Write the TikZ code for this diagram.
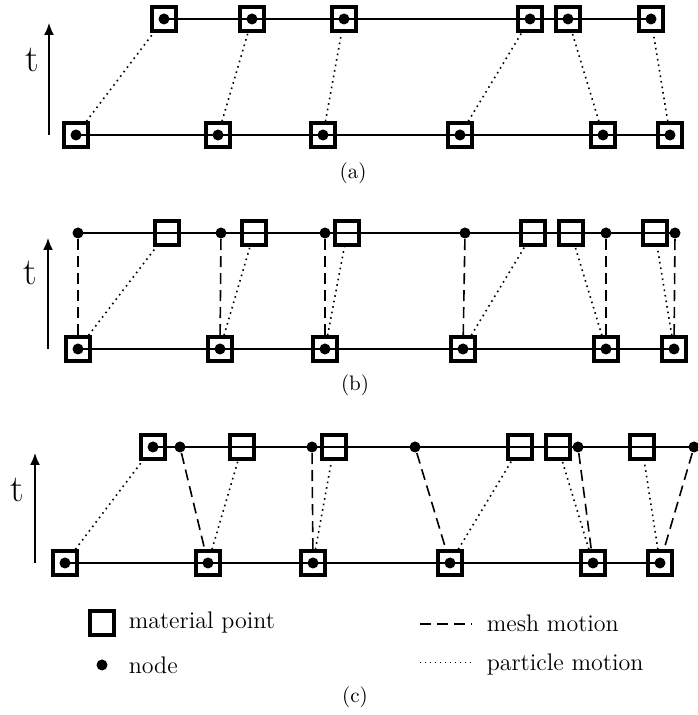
\documentclass[tikz,border=0pt]{standalone}
\usetikzlibrary{arrows.meta}

\tikzset{
  mp/.style={draw,line width=1.7pt,minimum size=12pt,inner sep=0pt},
  mpd/.style={mp,path picture={\fill (path picture bounding box.center) circle (2.75pt);}},
  nd/.style={circle,fill,inner sep=0pt,minimum size=5.5pt},
  pm/.style={dotted,line width=0.8pt},
  mm/.style={dash pattern=on 5.5pt off 3pt,line width=0.8pt},
  tlab/.style={font=\fontsize{19}{22}\selectfont},
  leg/.style={anchor=west,inner sep=0pt,font=\fontsize{12}{14}\selectfont},
  sublab/.style={font=\fontsize{10.5}{12}\selectfont}
}

\begin{document}
\begin{tikzpicture}[x=0.5pt,y=0.5pt,line width=0.75pt,>={Latex[length=6pt,width=5pt]}]
\useasboundingbox (0,0) rectangle (697,715);

% (a)
\foreach \x [count=\i] in {164,252,344,530,568,651} \node[mpd] (at\i) at (\x,696) {};
\foreach \x [count=\i] in {76,218,323,460,603,670} \node[mpd] (ab\i) at (\x,580) {};
\draw (at1.center) -- (at6.center);
\draw (ab1.center) -- (ab6.center);
\foreach \i in {1,...,6} \draw[pm] (ab\i) -- (at\i);
\coordinate (ta) at (49,580);
\draw[->] (ta) -- ++(0,112);
\node[tlab] (tla) at (32,655) {t};
\node[sublab] (la) at (353,542) {(a)};

% (b)
\foreach \x [count=\i] in {78,221,325,465,606,675} \node[nd] (bn\i) at (\x,482) {};
\foreach \x [count=\i] in {167,254,347,533,571,655} \node[mp] (bt\i) at (\x,482) {};
\foreach \x [count=\i] in {78,220,325,463,606,674} \node[mpd] (bb\i) at (\x,366) {};
\draw (bn1.center) -- (bn6.center);
\draw (bb1.center) -- (bb6.center);
\foreach \i in {1,...,6} {
  \draw[mm] (bn\i) -- (bb\i);
  \draw[pm] (bb\i) -- (bt\i);
}
\coordinate (tb) at (48,366);
\draw[->] (tb) -- ++(0,111);
\node[tlab] (tlb) at (30,442) {t};
\node[sublab] (lb) at (355,330) {(b)};

% (c)
\foreach \x [count=\i] in {153,242,334,520,558,642} \node[mp] (ct\i) at (\x,268) {};
\fill (ct1.center) circle (2.75pt);
\foreach \x [count=\i] in {180,312,415,578,694} \node[nd] (cn\i) at (\x,268) {};
\foreach \x [count=\i] in {65,208,313,450,593,660} \node[mpd] (cb\i) at (\x,152) {};
\draw (ct1.center) -- (cn5.center);
\draw (cb1.center) -- (cb6.center);
\foreach \i in {1,...,6} \draw[pm] (cb\i) -- (ct\i);
\foreach \i [evaluate=\i as \j using int(\i+1)] in {1,...,5} \draw[mm] (cn\i) -- (cb\j);
\coordinate (tc) at (35,152);
\draw[->] (tc) -- ++(0,110);
\node[tlab] (tlc) at (17,225) {t};

% legend
\node[mp] (lmp) at (102,92) {};
\node[leg] (tmp) at (128,92) {material point};
\node[nd] (lnd) at (102,50) {};
\node[leg] (tnd) at (128,50) {node};
\coordinate (lm1) at (420,91);
\coordinate (lm2) at (472,91);
\draw[mm] (lm1) -- (lm2);
\node[leg] (tmm) at (486,92) {mesh motion};
\coordinate (lp1) at (420,52);
\coordinate (lp2) at (472,52);
\draw[dotted,line width=0.5pt] (lp1) -- (lp2);
\node[leg] (tpm) at (486,50) {particle motion};
\node[sublab] (lc) at (355,18) {(c)};
\end{tikzpicture}
\end{document}
